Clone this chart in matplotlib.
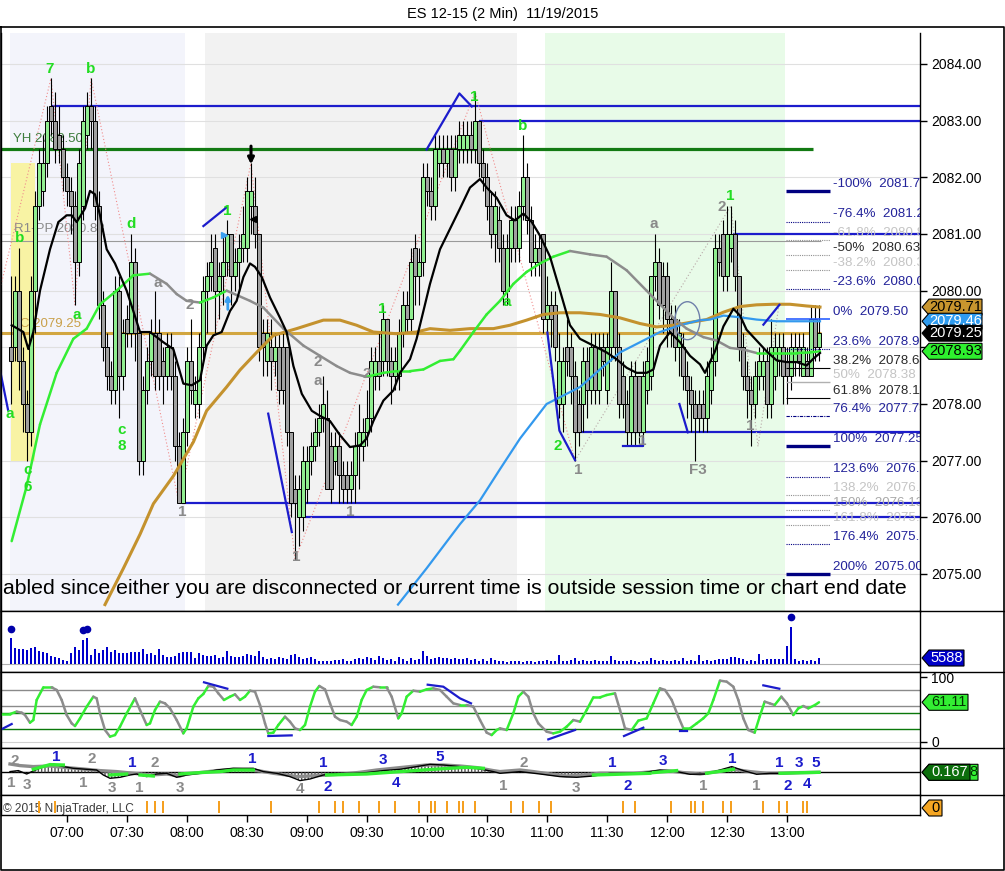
import matplotlib
matplotlib.use('Agg')
import matplotlib.pyplot as plt
import numpy as np
from matplotlib.patches import Rectangle, Polygon, Ellipse
from matplotlib.transforms import IdentityTransform
from matplotlib.lines import Line2D
from matplotlib.collections import LineCollection

plt.rcParams['font.family'] = ['Liberation Sans', 'DejaVu Sans']

# ---------------- DATA ----------------
title = "ES 12-15 (2 Min)  11/19/2015"
session_start = "06:32"          # first 2-minute bar
bar_minutes = 2
time_ticks = ['07:00', '07:30', '08:00', '08:30', '09:00', '09:30', '10:00',
              '10:30', '11:00', '11:30', '12:00', '12:30', '13:00']
price_ticks = [2075, 2076, 2077, 2078, 2079, 2080, 2081, 2082, 2083, 2084]

open_ = [2079.0, 2079.0, 2080.0, 2078.75, 2078.0, 2077.5, 2080.0, 2081.5, 2081.75, 2082.25,
         2083.25, 2083.0, 2082.75, 2082.5, 2082.0, 2081.75, 2081.5, 2080.5, 2081.5, 2082.75,
         2083.25, 2083.0, 2081.5, 2079.75, 2079.0, 2078.5, 2078.25, 2080.0, 2078.5, 2079.5,
         2079.25, 2080.5, 2079.25, 2077.0, 2078.25, 2078.75, 2079.25, 2079.25, 2078.75, 2078.5,
         2079.0, 2078.5, 2077.25, 2076.25, 2077.5, 2078.75, 2078.0, 2078.0, 2079.0, 2080.0,
         2080.25, 2080.75, 2080.0, 2080.25, 2080.5, 2081.0, 2080.25, 2080.5, 2080.75, 2080.75,
         2081.5, 2081.5, 2081.0, 2079.25, 2078.75, 2079.0, 2078.75, 2079.0, 2079.0, 2079.0,
         2077.5, 2076.5, 2076.0, 2076.0, 2076.5, 2077.0, 2077.25, 2077.5, 2077.75, 2077.75,
         2077.25, 2077.0, 2077.25, 2076.75, 2076.75, 2076.5, 2076.75, 2077.25, 2077.25, 2077.5,
         2077.75, 2078.5, 2078.75, 2078.75, 2079.5, 2078.75, 2078.5, 2078.5, 2079.25, 2079.75,
         2079.5, 2080.75, 2080.25, 2080.5, 2082.0, 2081.75, 2081.5, 2082.25, 2082.5, 2082.25,
         2082.5, 2082.0, 2082.5, 2082.5, 2082.5, 2082.75, 2082.5, 2083.0, 2082.25, 2082.0,
         2081.5, 2081.0, 2081.25, 2080.75, 2080.0, 2080.75, 2081.25, 2080.75, 2081.5, 2082.0,
         2081.25, 2080.5, 2080.75, 2081.0, 2079.5, 2079.75, 2079.75, 2078.0, 2078.0, 2079.0,
         2079.0, 2078.5, 2078.0, 2078.0, 2078.75, 2078.25, 2079.0, 2078.25, 2079.0, 2078.25,
         2079.0, 2080.0, 2079.0, 2078.5, 2078.0, 2077.5, 2078.5, 2078.5, 2077.5, 2078.25,
         2078.5, 2080.25, 2080.5, 2080.25, 2080.25, 2079.5, 2079.5, 2079.0, 2079.0, 2078.5,
         2078.25, 2078.0, 2078.0, 2078.0, 2077.75, 2078.25, 2078.75, 2080.75, 2081.0, 2080.25,
         2080.75, 2081.0, 2080.25, 2079.0, 2078.5, 2078.25, 2078.0, 2078.5, 2078.5, 2078.75,
         2078.0, 2078.5, 2078.75, 2079.0, 2078.75, 2078.5, 2078.75, 2079.0, 2078.5, 2078.75,
         2078.5, 2079.5, 2079.0]
high = [2080.25, 2080.25, 2080.75, 2079.0, 2078.25, 2080.25, 2081.75, 2082.5, 2082.75, 2083.25,
        2083.75, 2083.5, 2083.25, 2082.75, 2082.25, 2082.0, 2081.75, 2082.5, 2083.25, 2083.5,
        2083.75, 2083.25, 2081.75, 2080.0, 2079.25, 2078.75, 2080.25, 2080.25, 2079.5, 2079.75,
        2081.0, 2080.75, 2079.25, 2078.5, 2079.0, 2079.5, 2080.0, 2079.5, 2079.0, 2079.25,
        2079.25, 2078.75, 2077.5, 2077.75, 2079.0, 2079.5, 2078.5, 2079.25, 2080.25, 2080.5,
        2081.0, 2081.0, 2080.5, 2081.0, 2081.25, 2081.0, 2080.75, 2081.0, 2081.5, 2082.0,
        2082.25, 2082.0, 2081.0, 2079.5, 2079.5, 2079.5, 2079.25, 2079.25, 2079.25, 2079.0,
        2077.5, 2076.75, 2076.75, 2077.25, 2077.25, 2077.5, 2077.75, 2078.0, 2078.5, 2078.25,
        2077.5, 2077.5, 2077.5, 2077.0, 2077.0, 2077.0, 2077.5, 2078.0, 2077.75, 2078.25,
        2079.0, 2079.0, 2079.25, 2079.75, 2079.5, 2079.0, 2079.0, 2079.5, 2080.0, 2080.0,
        2080.75, 2081.0, 2080.75, 2082.25, 2082.25, 2082.0, 2082.75, 2082.75, 2082.75, 2082.75,
        2082.75, 2082.75, 2083.0, 2083.0, 2083.0, 2083.0, 2083.5, 2083.0, 2082.5, 2082.25,
        2081.75, 2081.75, 2081.5, 2081.0, 2081.0, 2081.5, 2081.5, 2081.75, 2082.75, 2082.25,
        2081.5, 2081.0, 2081.0, 2081.0, 2080.25, 2080.0, 2080.0, 2079.25, 2079.0, 2079.5,
        2079.25, 2078.75, 2078.25, 2079.0, 2079.0, 2079.25, 2079.25, 2079.25, 2079.25, 2079.25,
        2080.5, 2080.0, 2079.25, 2078.75, 2078.25, 2078.75, 2078.75, 2078.5, 2078.75, 2079.0,
        2080.25, 2081.0, 2080.75, 2080.5, 2080.5, 2079.75, 2079.75, 2079.5, 2079.25, 2078.75,
        2078.5, 2078.25, 2078.25, 2078.25, 2078.75, 2079.0, 2081.0, 2081.0, 2081.25, 2081.5,
        2081.5, 2081.25, 2080.25, 2079.25, 2078.75, 2078.5, 2078.75, 2079.0, 2079.0, 2079.0,
        2079.5, 2079.25, 2079.25, 2079.25, 2079.0, 2079.25, 2079.25, 2079.25, 2079.25, 2079.0,
        2079.75, 2079.75, 2079.75]
low = [2078.0, 2078.75, 2078.25, 2077.5, 2077.0, 2077.25, 2079.25, 2081.25, 2081.5, 2082.0,
       2082.75, 2082.25, 2082.25, 2081.75, 2081.5, 2081.0, 2079.75, 2080.25, 2081.25, 2082.5,
       2082.5, 2081.25, 2079.5, 2078.75, 2078.25, 2078.0, 2078.0, 2077.75, 2078.25, 2079.0,
       2079.0, 2078.75, 2076.75, 2076.75, 2078.0, 2078.5, 2078.25, 2078.25, 2078.0, 2078.25,
       2078.25, 2077.0, 2076.25, 2076.25, 2077.25, 2078.0, 2077.75, 2077.75, 2078.75, 2079.25,
       2080.0, 2079.25, 2079.5, 2079.75, 2080.25, 2079.75, 2080.0, 2080.0, 2080.5, 2080.5,
       2081.0, 2080.75, 2078.75, 2078.5, 2078.5, 2078.25, 2078.5, 2078.0, 2078.0, 2077.25,
       2076.0, 2075.25, 2075.5, 2075.75, 2076.25, 2076.75, 2077.0, 2077.25, 2077.5, 2076.5,
       2076.25, 2076.75, 2076.25, 2076.25, 2076.25, 2076.25, 2076.25, 2076.5, 2077.0, 2077.25,
       2077.5, 2078.25, 2078.25, 2078.5, 2078.5, 2078.0, 2078.25, 2078.25, 2079.0, 2079.25,
       2079.25, 2079.75, 2079.75, 2080.25, 2081.5, 2081.25, 2081.25, 2082.0, 2082.0, 2082.0,
       2081.75, 2081.75, 2082.25, 2082.25, 2082.25, 2082.25, 2082.25, 2082.0, 2081.75, 2081.25,
       2080.75, 2080.5, 2080.5, 2079.75, 2079.75, 2080.5, 2080.5, 2080.5, 2081.25, 2081.0,
       2080.25, 2080.25, 2080.25, 2079.25, 2079.25, 2079.0, 2078.75, 2077.75, 2077.5, 2078.5,
       2078.0, 2077.0, 2077.25, 2077.5, 2077.75, 2078.0, 2078.0, 2078.0, 2078.5, 2078.0,
       2078.75, 2078.75, 2077.75, 2077.75, 2077.25, 2077.25, 2077.25, 2077.25, 2077.25, 2078.0,
       2078.25, 2080.0, 2079.5, 2079.25, 2079.0, 2079.0, 2078.75, 2078.5, 2078.25, 2077.75,
       2077.5, 2077.0, 2077.5, 2077.5, 2077.5, 2078.0, 2078.5, 2080.25, 2080.0, 2080.0,
       2080.5, 2080.0, 2078.75, 2078.25, 2077.75, 2077.25, 2077.75, 2078.25, 2078.25, 2077.75,
       2077.75, 2078.25, 2078.5, 2078.0, 2078.0, 2078.25, 2078.5, 2078.5, 2078.5, 2078.5,
       2078.5, 2078.75, 2078.75]
close = [2078.75, 2080.0, 2078.75, 2078.0, 2077.5, 2080.0, 2081.5, 2082.25, 2082.25, 2083.0,
         2083.0, 2082.5, 2082.5, 2082.0, 2081.75, 2081.5, 2080.5, 2082.25, 2083.0, 2083.25,
         2083.0, 2081.5, 2079.75, 2079.0, 2078.5, 2078.25, 2080.0, 2078.5, 2079.25, 2079.25,
         2080.5, 2079.25, 2077.0, 2078.25, 2078.75, 2079.25, 2078.5, 2078.5, 2078.5, 2079.0,
         2078.5, 2077.25, 2076.25, 2077.5, 2078.75, 2078.25, 2078.25, 2079.0, 2080.0, 2080.25,
         2080.5, 2080.0, 2080.25, 2080.5, 2081.0, 2080.25, 2080.5, 2080.75, 2081.0, 2081.75,
         2081.75, 2081.0, 2079.0, 2079.0, 2079.25, 2078.75, 2079.0, 2078.25, 2078.25, 2077.5,
         2076.25, 2076.25, 2076.5, 2077.0, 2077.0, 2077.25, 2077.5, 2077.75, 2078.0, 2076.5,
         2076.5, 2077.25, 2076.75, 2076.5, 2076.5, 2076.75, 2077.25, 2077.5, 2077.5, 2077.75,
         2078.75, 2078.75, 2078.5, 2079.5, 2078.75, 2078.5, 2078.75, 2079.25, 2079.75, 2079.5,
         2080.5, 2080.25, 2080.5, 2082.0, 2081.75, 2081.5, 2082.5, 2082.5, 2082.25, 2082.5,
         2082.0, 2082.5, 2082.75, 2082.75, 2082.75, 2082.5, 2083.0, 2082.25, 2082.0, 2081.5,
         2081.0, 2081.5, 2080.75, 2080.0, 2080.75, 2081.25, 2080.75, 2081.5, 2082.0, 2081.25,
         2080.5, 2080.75, 2080.5, 2079.5, 2079.75, 2079.5, 2079.0, 2078.75, 2078.75, 2078.75,
         2078.5, 2077.5, 2077.5, 2078.75, 2078.25, 2079.0, 2078.25, 2079.0, 2078.75, 2079.0,
         2080.0, 2079.0, 2078.0, 2078.0, 2077.5, 2078.5, 2077.5, 2077.5, 2078.5, 2078.75,
         2080.25, 2080.5, 2079.75, 2079.75, 2079.5, 2079.25, 2079.0, 2079.25, 2078.5, 2078.25,
         2078.0, 2077.75, 2077.75, 2077.75, 2078.5, 2078.75, 2080.75, 2080.5, 2080.25, 2081.0,
         2081.0, 2080.25, 2079.0, 2078.5, 2078.25, 2078.0, 2078.5, 2078.75, 2078.75, 2078.0,
         2079.0, 2079.0, 2079.0, 2078.5, 2078.5, 2079.0, 2079.0, 2078.75, 2079.0, 2078.5,
         2079.5, 2079.0, 2079.25]

volume_hundreds = [239, 146, 136, 136, 130, 146, 161, 124, 115, 105,
                   74, 68, 53, 37, 31, 99, 161, 130, 223, 239,
                   84, 136, 99, 130, 155, 115, 130, 105, 105, 99,
                   115, 115, 115, 136, 93, 99, 84, 136, 84, 62,
                   68, 74, 105, 115, 115, 115, 53, 99, 84, 74,
                   74, 84, 53, 68, 124, 74, 62, 68, 74, 93,
                   84, 74, 124, 62, 43, 53, 43, 62, 53, 43,
                   84, 93, 62, 43, 53, 68, 43, 31, 31, 28,
                   28, 37, 37, 43, 31, 31, 43, 53, 43, 62,
                   53, 37, 74, 53, 37, 43, 31, 62, 43, 31,
                   53, 37, 43, 124, 74, 43, 53, 68, 53, 53,
                   43, 53, 43, 43, 53, 37, 43, 31, 43, 31,
                   53, 37, 31,
                   25, 19, 25, 31, 25, 19, 31, 25, 19, 25,
                   31, 37, 25, 31, 84, 31, 25, 37, 53, 25,
                   37, 25, 31, 37, 25, 31, 25, 74, 37, 31,
                   25, 31, 37, 25, 19, 25, 31, 53, 37, 31,
                   37, 25, 31, 37, 25, 53, 25, 37, 31, 84,
                   31, 37, 25, 37, 43, 50, 50, 62, 68, 56,
                   43, 31, 37, 25, 93, 37, 43, 50, 43, 43,
                   50, 167, 347, 43, 31, 37, 25, 37, 31, 56]
volume_dot_bars = [0, 18, 19, 195]
last_volume_text = "5588"

# moving averages (bar index, price)
ma_fast_i = [0.17, 3.08, 4.33, 5.58, 7.25, 9.75, 11.83, 13.92, 15.17, 16.42,
             18.5, 19.75, 21.0, 22.25, 23.92, 26.0, 28.92, 30.58, 32.25, 34.75,
             38.08, 40.58, 43.08, 45.17, 47.25, 48.92, 50.58, 52.67, 54.75, 56.4,
             58.1, 59.75, 61.0, 62.7, 64.75, 67.25, 68.9, 70.6, 72.7, 75.2,
             77.25, 79.75, 82.25, 84.75, 87.25, 88.9, 90.6, 93.1, 95.6, 97.25,
             99.75, 101.4, 103.1, 104.75, 107.25, 109.75, 112.25, 114.75, 117.25, 118.9,
             121.4, 123.9, 126.0, 128.1, 130.2, 132.25, 134.75, 137.25, 139.75, 142.25,
             145.6, 148.9, 151.4, 153.9, 156.4, 158.9, 160.6, 162.25, 164.75, 167.25,
             169.75, 172.25, 173.5, 176.0, 178.1, 180.6, 182.25, 183.9, 186.4, 188.9,
             191.4, 193.9, 196.4, 198.9, 200.6, 202.25]
ma_fast_p = [2079.39, 2079.27, 2078.97, 2079.27, 2080.0, 2080.73, 2081.21, 2081.33, 2081.33, 2081.21,
             2081.45, 2081.76, 2081.7, 2081.33, 2080.73, 2080.48, 2080.0, 2079.64, 2079.27, 2079.27,
             2079.09, 2078.97, 2078.36, 2078.33, 2078.42, 2079.03, 2079.21, 2079.27, 2079.64, 2079.82,
             2080.24, 2080.48, 2080.42, 2080.24, 2079.88, 2079.52, 2079.27, 2078.67, 2078.18, 2077.88,
             2077.79, 2077.7, 2077.45, 2077.24, 2077.27, 2077.39, 2077.7, 2078.06, 2078.24, 2078.55,
             2078.79, 2079.15, 2079.64, 2080.12, 2080.73, 2081.09, 2081.45, 2081.82, 2081.97, 2081.82,
             2081.64, 2081.33, 2081.24, 2081.36, 2081.21, 2080.97, 2080.6, 2080.0, 2079.39, 2079.15,
             2079.03, 2078.91, 2078.79, 2078.64, 2078.55, 2078.55, 2078.61, 2079.03, 2079.27, 2079.09,
             2078.85, 2078.7, 2078.55, 2078.93, 2079.37, 2079.68, 2079.56, 2079.31, 2079.12, 2078.93,
             2078.77, 2078.74, 2078.74, 2078.68, 2078.8, 2078.9]
ma_mid_i = [0.17, 3.92, 7.25, 11.42, 15.58, 18.92, 22.25, 26.42, 30.58, 34.75,
            38.92, 41.42, 43.92, 47.25, 50.58, 53.92, 59.75, 63.1, 68.1, 73.1,
            77.25, 81.4, 84.75, 88.9, 93.1, 96.4, 99.75, 103.1, 107.25, 110.6,
            112.25, 115.6, 118.9, 122.25, 125.6, 128.9, 132.25, 135.6, 139.75, 144.75,
            148.9, 153.9, 158.9, 162.25, 165.6, 168.9, 173.1, 176.4, 179.75, 183.1,
            186.4, 189.75, 193.1, 196.4, 199.75, 202.25]
ma_mid_p = [2075.58, 2076.55, 2077.64, 2078.55, 2079.15, 2079.33, 2079.76, 2080.0, 2080.27, 2080.3,
            2080.12, 2079.94, 2079.82, 2079.79, 2079.88, 2080.0, 2079.82, 2079.7, 2079.33, 2079.03,
            2078.85, 2078.67, 2078.55, 2078.48, 2078.55, 2078.58, 2078.58, 2078.61, 2078.76, 2078.79,
            2078.94, 2079.27, 2079.58, 2079.82, 2080.12, 2080.33, 2080.48, 2080.6, 2080.7, 2080.64,
            2080.6, 2080.36, 2080.0, 2079.76, 2079.52, 2079.33, 2079.18, 2079.12, 2078.99, 2078.96,
            2078.9, 2078.9, 2078.9, 2078.9, 2078.91, 2078.93]
ma_gold_i = [23.5, 28.1, 32.25, 35.6, 40.6, 45.6, 48.9, 53.9, 57.25, 61.4,
             65.6, 71.4, 78.1, 82.25, 86.4, 90.6, 96.4, 101.4, 104.75, 109.75,
             114.75, 120.6, 124.75, 128.9, 133.1, 137.25, 142.25, 147.25, 152.25, 157.25,
             161.4, 165.6, 170.6, 173.9, 178.1, 182.25, 186.4, 190.6, 194.75, 198.9, 202.25]
ma_gold_p = [2074.46, 2075.1, 2075.7, 2076.24, 2076.73, 2077.33, 2077.88, 2078.3, 2078.6, 2078.91,
             2079.21, 2079.33, 2079.48, 2079.48, 2079.39, 2079.27, 2079.24, 2079.27, 2079.33, 2079.3,
             2079.33, 2079.33, 2079.39, 2079.48, 2079.58, 2079.61, 2079.61, 2079.58, 2079.52, 2079.42,
             2079.36, 2079.39, 2079.45, 2079.49, 2079.62, 2079.72, 2079.75, 2079.76, 2079.76, 2079.73, 2079.71]
ma_blue_i = [96.75, 103.9, 112.25, 117.25, 122.25, 127.25, 133.9, 137.25, 142.25, 147.25,
             152.25, 157.25, 162.25, 167.25, 172.25, 174.75, 178.1, 182.25, 186.4, 191.4, 196.4, 202.25]
ma_blue_p = [2074.46, 2075.1, 2075.88, 2076.3, 2076.85, 2077.39, 2078.0, 2078.12, 2078.3, 2078.61,
             2078.91, 2079.09, 2079.27, 2079.39, 2079.48, 2079.49, 2079.56, 2079.53, 2079.49, 2079.46,
             2079.46, 2079.46]

# swing zigzag
zig_i = [-2.5, 10, 16, 20, 42, 60, 71, 116, 141]
zig_p = [2080.1, 2083.75, 2079.75, 2083.75, 2076.25, 2082.25, 2075.25, 2083.5, 2077.0]
zig2_i = [141, 180, 186.75, 192]
zig2_p = [2077.0, 2081.5, 2077.25, 2079.75]

# horizontal levels
blue_level_p = [2083.25, 2083.0, 2081.0, 2077.5, 2076.25, 2076.0]
blue_level_start = [10.25, 117, 180.5, 141, 42.75, 73.5]
yh_level = 2082.50
r1pp_level = 2080.88
close_level = 2079.25

# fibonacci block
fib_pct = ['-100%', '-76.4%', '-61.8%', '-50%', '-38.2%', '-23.6%', '0%', '23.6%', '38.2%', '50%',
           '61.8%', '76.4%', '100%', '123.6%', '138.2%', '150%', '161.8%', '176.4%', '200%']
fib_price = [2081.75, 2081.22, 2080.89, 2080.63, 2080.36, 2080.03, 2079.50, 2078.97, 2078.64, 2078.38,
             2078.11, 2077.78, 2077.25, 2076.72, 2076.39, 2076.13, 2075.86, 2075.53, 2075.00]

# swing labels
green_lbl = ['7', 'b', 'b', 'a', 'c', '6', 'a', 'd', 'c', '8', '1', '1', '1', 'b', 'a', '2', '1']
green_lbl_i = [9.75, 20, 2.25, -0.25, 4.1, 4.1, 16.5, 30, 27.75, 27.75, 54, 92.75, 115.75, 127.9, 123.9, 136.8, 179.75]
green_lbl_p = [2083.91, 2083.91, 2080.93, 2077.82, 2076.84, 2076.54, 2079.57, 2081.18, 2077.54, 2077.26,
               2081.41, 2079.68, 2083.42, 2082.91, 2079.80, 2077.26, 2081.67]
gray_lbl = ['a', '2', '1', '2', 'a', '1', '1', '2', '1', 'a', '1', 'F3', '2', '1']
gray_lbl_i = [36.8, 44.75, 42.7, 76.8, 76.8, 71.4, 84.75, 88.9, 141.8, 160.75, 157.7, 171.75, 177.8, 184.75]
gray_lbl_p = [2080.14, 2079.75, 2076.10, 2078.74, 2078.41, 2075.30, 2076.10, 2078.53, 2076.84, 2081.18,
              2077.35, 2076.84, 2081.48, 2077.61]

blue_marks = [[(-2.75, 2078.6), (-0.75, 2077.9)],
              [(48.1, 2081.14), (53.9, 2081.47)],
              [(64.3, 2077.83), (70.2, 2075.74)],
              [(103.9, 2082.49), (112.1, 2083.48), (115.2, 2083.25)],
              [(134.1, 2079.26), (137.1, 2077.53), (141.0, 2077.01)],
              [(153.1, 2077.26), (158.1, 2077.26), (158.1, 2077.38)],
              [(167.1, 2078.0), (169.2, 2077.5)],
              [(188.1, 2079.4), (192.1, 2079.75)]]

price_tags = [(2079.71, '2079.71', '#c8952e', 'black'),
              (2079.46, '2079.46', '#2e9bef', 'white'),
              (2079.25, '2079.25', '#000000', 'white'),
              (2078.93, '2078.93', '#2ef02e', 'black')]

# stochastic
sto_i = [-2.75, -0.25, 1.42, 2.67, 3.5, 4.75, 5.58, 6.42, 8.08, 10.17,
         11.42, 12.67, 13.92, 15.17, 16.0, 17.25, 18.92, 20.58, 21.42, 22.25,
         23.5, 24.75, 26.0, 27.25, 28.92, 31.0, 32.25, 33.92, 34.75, 36.0,
         37.25, 38.5, 39.75, 41.42, 43.08, 43.92, 45.58, 46.83, 48.08, 49.33,
         50.58, 51.83, 53.25, 54.75, 56.0, 57.25, 58.5, 59.75, 61.0, 62.25,
         63.5, 64.33, 65.58, 66.83, 68.5, 69.75, 71.0, 72.25, 73.5, 74.75,
         76.0, 77.08, 78.5, 79.75, 81.0, 82.25, 83.92, 85.17, 86.42, 87.67,
         88.92, 90.58, 92.25, 93.92, 95.17, 96.83, 97.67, 98.92, 100.58, 102.25,
         103.92, 105.58, 107.25, 108.92, 110.58, 112.25, 113.92, 115.58, 117.25, 118.92,
         120.17, 121.42, 122.25, 123.92, 125.58, 126.83, 128.08, 129.33, 130.58, 131.83,
         133.92, 135.58, 137.25, 138.92, 140.58, 142.25, 143.92, 145.58, 147.25, 148.92,
         151.0, 152.25, 153.5, 155.17, 156.83, 158.92, 160.58, 162.25, 163.5, 165.17,
         166.83, 168.08, 169.75, 171.42, 173.08, 174.33, 175.58, 177.25, 178.92, 180.58,
         181.83, 183.08, 184.33, 185.92, 187.17, 188.42, 189.67, 190.92, 192.58, 194.0,
         195.58, 196.83, 198.08, 199.33, 201.0, 202.0]
sto_v = [42.9, 42.9, 46.6, 45.0, 41.4, 29.5, 33.6, 64.7, 84.3, 84.3,
         80.2, 64.7, 41.4, 28.4, 24.3, 36.2, 54.3, 69.8, 67.2, 44.0,
         18.1, 7.8, 10.3, 23.3, 44.0, 67.2, 49.1, 25.9, 28.4, 49.1,
         62.1, 59.5, 51.7, 33.6, 12.9, 20.7, 54.3, 67.2, 74.0, 86.4,
         85.3, 75.0, 64.7, 69.8, 73.4, 64.7, 69.8, 79.1, 77.6, 56.9,
         28.4, 12.9, 14.0, 25.9, 38.8, 31.0, 20.7, 18.1, 25.9, 54.3,
         77.6, 86.4, 81.2, 59.5, 38.8, 33.6, 31.0, 25.9, 38.8, 64.7,
         80.2, 85.3, 84.3, 84.3, 69.8, 36.2, 44.0, 69.8, 79.1, 77.6,
         81.2, 82.8, 80.2, 69.8, 59.5, 56.9, 56.9, 54.3, 33.6, 14.0,
         10.3, 18.1, 20.7, 18.1, 44.0, 69.8, 77.6, 69.8, 44.0, 28.4,
         15.5, 12.9, 15.5, 23.3, 33.6, 31.0, 49.1, 68.8, 68.8, 72.4,
         75.0, 49.1, 20.7, 18.1, 32.6, 36.2, 59.5, 82.8, 80.2, 64.7,
         38.8, 20.7, 20.7, 28.4, 36.2, 44.0, 64.7, 94.7, 93.1, 85.3,
         64.7, 36.2, 18.1, 14.0, 38.8, 62.1, 59.5, 56.9, 69.8, 59.5,
         41.4, 51.7, 55.3, 51.7, 56.9, 61.1]
sto_levels_gray = [80, 55]
sto_levels_green = [45, 20]
sto_marks = [[(-2.75, 18.1), (0.17, 27.4)],
             [(48.25, 92.1), (54.08, 82.2)],
             [(64.33, 8.8), (70.17, 9.8)],
             [(104.17, 88.4), (108.08, 85.3), (112.25, 67.2), (115.0, 59.5)],
             [(134.33, 3.6), (141.0, 18.1)],
             [(153.25, 8.8), (158.08, 21.7)],
             [(167.25, 16.6), (169.08, 16.6)],
             [(188.08, 87.4), (192.08, 82.2)]]
sto_last_text = "61.11"

# oscillator
osc_gray_i = [-0.25, 2.25, 5.58, 9.75, 13.92, 18.08, 22.25, 26.42, 30.58, 34.75,
              38.92, 42.25, 43.92, 47.25, 51.42, 55.58, 59.75, 62.25, 65.58, 68.92,
              71.42, 74.75, 78.92, 83.08, 87.25, 91.42, 95.58, 99.75, 103.92, 108.08,
              112.25, 116.42, 120.58, 122.25, 127.25, 130.6, 134.75, 138.9, 143.1, 147.25,
              151.4, 155.6, 159.75, 163.9, 168.1, 172.25, 176.4, 180.6, 184.75, 188.9,
              193.1, 197.25, 202.0]
osc_gray_v = [0.83, 0.67, 0.57, 0.63, 0.47, 0.33, 0.17, 0.07, -0.1, -0.27,
              -0.17, -0.37, -0.17, -0.03, 0.17, 0.3, 0.23, 0.13, -0.1, -0.27,
              -0.43, -0.37, -0.27, -0.17, 0.0, 0.23, 0.4, 0.57, 0.73, 0.73,
              0.63, 0.47, 0.17, 0.07, 0.23, 0.07, -0.17, -0.37, -0.27, -0.1,
              -0.1, -0.1, 0.03, 0.17, -0.03, -0.17, 0.07, 0.3, 0.07, -0.1,
              -0.1, -0.03, 0.0]
osc_black_i = [-0.25, 1.83, 3.92, 5.58, 8.08, 10.58, 13.08, 15.58, 18.92, 21.42,
               23.08, 24.75, 27.25, 29.75, 31.42, 33.92, 36.42, 38.92, 41.42, 43.92,
               47.25, 51.42, 55.58, 60.58, 63.08, 66.42, 69.75, 72.25, 74.75, 78.08,
               81.42, 85.58, 88.92, 93.08, 97.25, 101.42, 104.75, 108.08, 112.25, 116.42,
               120.58, 122.25, 127.25, 132.25, 137.25, 141.4, 145.6, 149.75, 153.9, 158.1,
               162.25, 166.4, 169.75, 173.9, 177.25, 180.2, 183.1, 186.4, 189.75, 193.1,
               197.25, 202.0]
osc_black_v = [0.07, 0.17, -0.17, 0.13, 0.57, 0.83, 0.57, 0.4, 0.3, 0.23,
               -0.27, -0.6, -0.5, -0.27, -0.17, -0.43, -0.17, -0.1, -0.5, -0.27,
               -0.1, 0.23, 0.4, 0.4, 0.07, -0.1, -0.43, -0.83, -0.67, -0.27,
               -0.1, -0.1, -0.03, 0.17, 0.3, 0.57, 0.8, 0.73, 0.57, 0.4,
               0.07, -0.1, 0.07, -0.17, -0.43, -0.5, -0.37, -0.1, -0.1, -0.03,
               0.23, 0.07, -0.2, -0.17, 0.23, 0.57, 0.17, -0.2, -0.1, -0.1,
               -0.03, 0.0]
osc_green = [[(5.58, 0.3), (9.75, 0.77), (13.08, 0.73)],
             [(24.75, -0.27), (28.92, -0.17)],
             [(32.25, -0.27), (35.58, -0.37)],
             [(42.25, -0.17), (47.25, -0.03), (52.25, 0.07), (55.58, 0.23), (60.58, 0.23)],
             [(78.92, -0.27), (88.92, -0.17), (97.25, 0.07), (105.58, 0.3), (113.92, 0.5), (118.08, 0.4)],
             [(145.6, -0.27), (159.75, -0.1)],
             [(160.6, -0.03), (166.4, 0.17)],
             [(173.9, -0.1), (180.6, 0.3)],
             [(192.25, -0.1), (202.0, 0.0)]]
osc_gray_lbl = ['2', '1', '3', '1', '2', '3', '1', '2', '3', '4', '2', '1', '3', '1', '1']
osc_gray_lbl_i = [1, 0.17, 4.1, 18.1, 20.2, 25.2, 32.1, 36, 42.25, 72.25, 128.1, 123.1, 141.25, 173.1, 186.25]
osc_gray_lbl_v = [1.13, -1.07, -1.27, -1.07, 1.33, -1.57, -1.57, 0.93, -1.57, -1.67, 0.93, -1.37, -1.57, -1.37, -1.37]
osc_blue_lbl = ['1', '1', '1', '1', '2', '3', '4', '5', '1', '2', '3', '1', '1', '3', '5', '2', '4']
osc_blue_lbl_i = [11.25, 30.2, 60.2, 78.1, 79.2, 93.1, 96.2, 107.1, 150.2, 154.2, 163.1, 180.2, 192.1, 197.1, 201.25, 194.1, 199.1]
osc_blue_lbl_v = [1.53, 0.93, 1.33, 0.93, -1.47, 1.23, -1.07, 1.53, 0.93, -1.37, 1.13, 1.33, 0.93, 0.93, 0.93, -1.37, -1.17]
osc_last_text = "0.167"

# signal markers (bottom strip)
marker_bars = [7, 11, 34, 36, 38, 52, 65, 77, 81, 83, 87, 92, 96, 102, 105, 106, 109, 112, 113, 116,
               125, 128, 132, 135, 153, 156, 165, 170, 171, 173, 178, 180, 188, 192, 194, 198, 199]

# shaded sessions (bar-index spans)
band_start = [-0.25, 48.5, 133.5]
band_end = [43.5, 126.5, 193.5]

# ---------------- FIGURE ----------------
W, H = 1005, 871
fig = plt.figure(figsize=(W / 100, H / 100), dpi=100)
fig.patch.set_facecolor('white')


def rect(x0, y0, x1, y1):
    return [x0 / W, 1 - y1 / H, (x1 - x0) / W, (y1 - y0) / H]


ax = fig.add_axes(rect(1, 33, 920, 611))
axv = fig.add_axes(rect(1, 611, 920, 672))
axs = fig.add_axes(rect(1, 672, 920, 748))
axo = fig.add_axes(rect(1, 748, 920, 795))
axm = fig.add_axes(rect(1, 795, 920, 815))
XL = (-2.5, 227.25)
for a in (ax, axv, axs, axo, axm):
    a.set_xlim(*XL)
    a.set_facecolor('white')
    for s in a.spines.values():
        s.set_color('black')
        s.set_linewidth(1.0)
    a.tick_params(axis='x', bottom=False, labelbottom=False)
    a.yaxis.tick_right()
    a.tick_params(axis='y', right=True, left=False, labelright=True, labelleft=False,
                  length=5, width=1, pad=3, labelsize=10, colors='black')
ax.spines['top'].set_visible(False)

n = len(close)
x = np.arange(n)
o = np.array(open_); c = np.array(close); hi = np.array(high); lo = np.array(low)

# ---- main price panel ----
ax.set_ylim(2074.347, 2084.547)
ax.set_yticks(price_ticks)
ax.set_yticklabels([f'{v:.2f}' for v in price_ticks])
band_cols = ['#f3f4fb', '#f2f2f2', '#e8fbe8']
for s0, s1, bc in zip(band_start, band_end, band_cols):
    ax.axvspan(s0, s1, color=bc, zorder=0, lw=0)
for p in price_ticks:
    ax.axhline(p, color='#e0e0e0', lw=0.8, zorder=0.5)
ax.add_patch(Rectangle((-0.1, 2077.0), 6.1, 5.25, facecolor='#f8f3a4', edgecolor='none', zorder=0.6))

# level lines
ax.hlines(yh_level, XL[0], 200.5, color='#137a13', lw=2.3, zorder=2)
ax.hlines(r1pp_level, XL[0], 202.5, color='#9a9a9a', lw=0.8, zorder=2)
ax.hlines(close_level, XL[0], 202.5, color='#d2a640', lw=2.2, zorder=2)
ax.hlines(blue_level_p, blue_level_start, XL[1], color='#1c1ccc', lw=1.6, zorder=2.5)
ax.text(0.5, yh_level + 0.18, 'YH 2082.50', color='#3d7d3d', fontsize=9.5, va='center', zorder=1.5)
ax.text(0.75, r1pp_level + 0.2, 'R1-PP 2080.88', color='#8a8a8a', fontsize=9.5, va='center', zorder=1.5)
ax.text(2.25, close_level + 0.17, 'C 2079.25', color='#c9a04a', fontsize=9.5, va='center', zorder=1.5)

# zigzags
ax.plot(zig_i, zig_p, color='#f08c8c', lw=0.8, ls=(0, (1, 2)), zorder=2.6)
ax.plot(zig2_i, zig2_p, color='#b8a8a8', lw=0.8, ls=(0, (1, 2)), zorder=2.6)

# candles
up = c > o
body_col = np.where(up, '#90ee90', '#a0a0a0')
ax.vlines(x, lo, hi, color='black', lw=0.8, zorder=4)
ax.bar(x, np.maximum(np.abs(c - o), 0.0001), bottom=np.minimum(o, c), width=0.78,
       color=body_col, edgecolor='black', linewidth=0.7, zorder=5)

# moving averages
ax.plot(ma_gold_i, ma_gold_p, color='#c4922e', lw=2.2, zorder=6)
ax.plot(ma_blue_i, ma_blue_p, color='#3399ee', lw=1.6, zorder=6)
mid_pts = np.column_stack([ma_mid_i, ma_mid_p])
mid_segs = [mid_pts[k:k + 2] for k in range(len(mid_pts) - 1)]
mid_cols = ['#33ee33' if ma_mid_p[k + 1] >= ma_mid_p[k] else '#8c8c8c' for k in range(len(mid_pts) - 1)]
ax.add_collection(LineCollection(mid_segs, colors=mid_cols, linewidths=1.8, zorder=6.2, capstyle='round'))
ax.plot(ma_fast_i, ma_fast_p, color='black', lw=1.6, zorder=6.5)

# blue trend marks
for seg in blue_marks:
    xs, ys = zip(*seg)
    ax.plot(xs, ys, color='#1c1ccc', lw=1.6, zorder=6.6)
ax.add_patch(Ellipse((169.1, 2079.47), 6.25, 0.67, fill=False, edgecolor='#6f80aa', lw=1.0, zorder=6.7))
ax.annotate('', xy=(60, 2082.18), xytext=(60, 2082.6),
            arrowprops=dict(arrowstyle='-|>', color='black', lw=2.2, mutation_scale=9), zorder=7)
ax.plot([60.6], [2081.27], marker='<', color='black', ms=4, zorder=7)
ax.plot([53.25], [2080.99], marker='>', color='#3a9ff0', ms=4, zorder=7)
ax.annotate('', xy=(54.2, 2079.98), xytext=(54.2, 2079.62),
            arrowprops=dict(arrowstyle='-|>', color='#3a9ff0', lw=2, mutation_scale=7), zorder=7)

# swing labels
for t, i_, p_ in zip(green_lbl, green_lbl_i, green_lbl_p):
    ax.text(i_, p_, t, color='#22dd22', fontsize=11, fontweight='bold', ha='center', va='center', zorder=8)
for t, i_, p_ in zip(gray_lbl, gray_lbl_i, gray_lbl_p):
    ax.text(i_, p_, t, color='#8a8a8a', fontsize=11, fontweight='bold', ha='center', va='center', zorder=8)

# fibonacci block
thick = {'-100%', '100%', '200%'}
navy_t = {'-100%', '-76.4%', '-23.6%', '0%', '23.6%', '76.4%', '100%', '123.6%', '176.4%', '200%'}
light_t = {'-61.8%', '-38.2%', '50%', '138.2%', '161.8%'}
dark_t = {'-50%', '38.2%', '61.8%'}
for pct, fp in zip(fib_pct, fib_price):
    if pct in thick:
        ax.hlines(fp, 193.75, 204.75, color='#000080', lw=2.4, zorder=6)
    elif pct == '0%':
        ax.hlines(fp, 193.75, 204.75, color='#2a60ff', lw=1.2, zorder=6)
    elif pct in ('38.2%', '61.8%'):
        ax.hlines(fp, 193.75, 204.75, color='black', lw=0.8, zorder=6)
    elif pct == '50%':
        ax.hlines(fp, 193.75, 204.75, color='#b0b0b0', lw=1.0, zorder=6)
    elif pct == '76.4%':
        ax.hlines(fp, 193.75, 204.75, color='#000080', lw=0.8, ls=(0, (3, 1, 1, 1)), zorder=6)
    else:
        ax.hlines(fp, 193.75, 204.75, color='#000080' if pct in navy_t else '#909090',
                  lw=0.8, ls=(0, (1, 1)), zorder=6)
    col = '#23239a' if pct in navy_t else ('#c4c4c4' if pct in light_t else ('#2a2a2a' if pct in dark_t else '#a8a8a8'))
    ax.text(205.5, fp + 0.125, f'{pct}  {fp:.2f}', color=col, fontsize=9.6, ha='left', va='center',
            zorder=7, clip_on=True)

ax.text(0.002, (611 - 588) / 578,
        'abled since either you are disconnected or current time is outside session time or chart end date',
        transform=ax.transAxes, fontsize=15.3, color='black', ha='left', va='center', zorder=20)

# ---- volume panel ----
axv.set_ylim(-74, 493)
axv.set_yticks([])
axv.axhline(0, color='#b0b0b0', lw=0.8, zorder=1)
axv.bar(x, volume_hundreds, width=0.45, color='#0000cc', zorder=2)
vd = np.array(volume_dot_bars)
axv.plot(vd, np.array(volume_hundreds)[vd] + 90, 'o', color='#0000aa', ms=4.5, zorder=3)

# ---- stochastic panel ----
axs.set_ylim(-9.8, 108.1)
axs.set_yticks([0, 100])
axs.set_yticklabels(['0', '100'])
for lv in sto_levels_gray:
    axs.axhline(lv, color='#8a8a8a', lw=1, zorder=1)
for lv in sto_levels_green:
    axs.axhline(lv, color='#0a780a', lw=1, zorder=1)
axs.axhline(0, color='#d0d0d0', lw=0.8, zorder=1)
sp = np.column_stack([sto_i, sto_v])
ssegs = [sp[k:k + 2] for k in range(len(sp) - 1)]
scols = ['#33ee33' if sto_v[k + 1] >= sto_v[k] else '#8c8c8c' for k in range(len(sp) - 1)]
axs.add_collection(LineCollection(ssegs, colors=scols, linewidths=1.8, zorder=3, capstyle='round'))
for seg in sto_marks:
    xs, ys = zip(*seg)
    axs.plot(xs, ys, color='#1c1ccc', lw=1.6, zorder=4)

# ---- oscillator panel ----
axo.set_ylim(-2.27, 2.43)
axo.set_yticks([])
axo.axhline(0, color='black', lw=1, zorder=1)
axo.fill_between(osc_black_i, 0, osc_black_v, facecolor='none', edgecolor='#555555',
                 hatch='|||||', lw=0, zorder=1.5)
axo.plot(osc_gray_i, osc_gray_v, color='#8c8c8c', lw=2.4, zorder=2)
axo.plot(osc_black_i, osc_black_v, color='black', lw=1.0, zorder=2.5)
for seg in osc_green:
    xs, ys = zip(*seg)
    axo.plot(xs, ys, color='#33ee33', lw=2.4, zorder=3)
for t, i_, v_ in zip(osc_gray_lbl, osc_gray_lbl_i, osc_gray_lbl_v):
    axo.text(i_, v_, t, color='#8a8a8a', fontsize=11, fontweight='bold', ha='center', va='center', zorder=5)
for t, i_, v_ in zip(osc_blue_lbl, osc_blue_lbl_i, osc_blue_lbl_v):
    axo.text(i_, v_, t, color='#1c1ccc', fontsize=11, fontweight='bold', ha='center', va='center', zorder=5)

# ---- marker strip ----
axm.set_ylim(0, 1)
axm.set_yticks([])
axm.bar(marker_bars, 0.6, bottom=0.12, width=0.6, color='#f5a020', zorder=2)
axm.text(0.002, 0.3, '\u00a9 2015 NinjaTrader, LLC', transform=axm.transAxes, fontsize=8.6,
         color='#3a3a3a', ha='left', va='center', zorder=1)
h0, m0 = map(int, session_start.split(':'))
tick_pos = [((int(t[:2]) * 60 + int(t[3:])) - (h0 * 60 + m0)) / bar_minutes for t in time_ticks]
axm.set_xticks(tick_pos)
axm.set_xticklabels(time_ticks)
axm.tick_params(axis='x', bottom=True, labelbottom=True, length=5, width=1, pad=3, labelsize=10,
                direction='out')

# ---- right-side value tags ----
def tag(axx, yval, text, fc, tc, w=60, h=15, ec='black', tx=None):
    xd = axx.bbox.x1
    yd = axx.transData.transform((0, yval))[1]
    x0 = xd + 2
    tip = 7
    verts = [(x0, yd), (x0 + tip, yd + h / 2), (x0 + w, yd + h / 2), (x0 + w, yd - h / 2), (x0 + tip, yd - h / 2)]
    fig.add_artist(Polygon(verts, closed=True, transform=IdentityTransform(), facecolor=fc,
                           edgecolor=ec, lw=0.8, zorder=30))
    if tx is None:
        tx = x0 + tip + (w - tip) / 2
        ha = 'center'
    else:
        tx = x0 + tx
        ha = 'left'
    fig.text(tx, yd, text, transform=IdentityTransform(), ha=ha, va='center', color=tc,
             fontsize=10.5, zorder=31)


for val, txt, fc, tc in price_tags:
    tag(ax, val, txt, fc, tc, w=60, h=16)
tag(axv, volume_hundreds[-1], last_volume_text, '#0000c8', 'white', w=42, h=16)
tag(axs, sto_v[-1], sto_last_text, '#33ee33', '#003300', w=46, h=16)
tag(axo, osc_black_v[-1], '8', '#33ee33', '#003300', w=56, h=16, tx=47)
tag(axo, osc_black_v[-1], osc_last_text, '#0c6e0c', 'white', w=48, h=16)
tag(axm, 0.35, '0', '#f5a623', 'black', w=20, h=16)

# ---- frame ----
for y in (611, 672, 748, 795):
    fig.add_artist(Line2D([920 / W, 1004 / W], [1 - y / H] * 2, color='black', lw=1))
fig.add_artist(Line2D([0.5 / W, 1004 / W, 1004 / W, 0.5 / W, 0.5 / W],
                      [1 - 27 / H, 1 - 27 / H, 1 - 870 / H, 1 - 870 / H, 1 - 27 / H], color='black', lw=1.2))

fig.text(503 / W, 1 - 14 / H, title, ha='center', va='center', fontsize=10.5, color='black')

fig.savefig('out.png', dpi=100)
